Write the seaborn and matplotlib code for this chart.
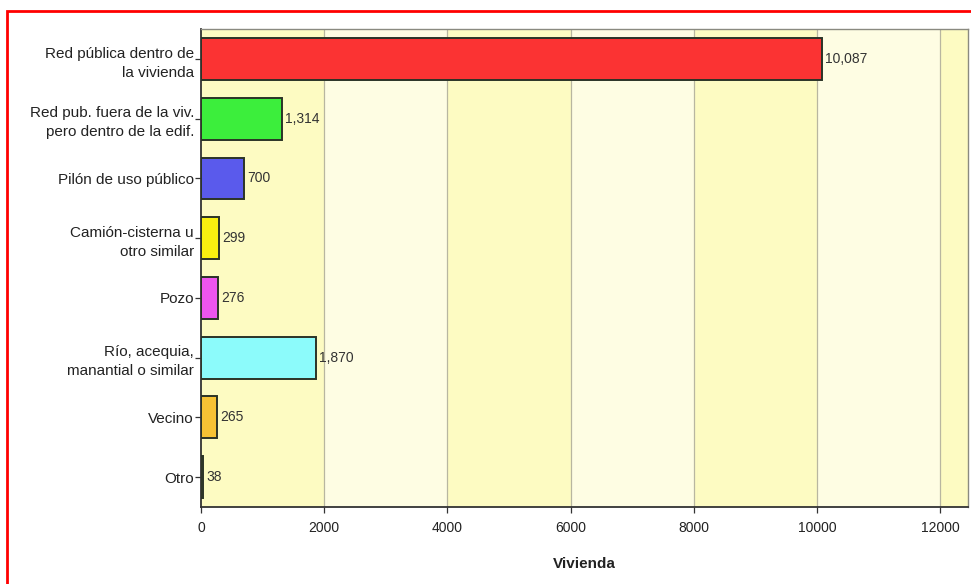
import matplotlib
matplotlib.use("Agg")
import matplotlib.pyplot as plt
import seaborn as sns
import pandas as pd
from matplotlib.patches import Rectangle

categories = [
    "Red pública dentro de\nla vivienda",
    "Red pub. fuera de la viv.\npero dentro de la edif.",
    "Pilón de uso público",
    "Camión-cisterna u\notro similar",
    "Pozo",
    "Río, acequia,\nmanantial o similar",
    "Vecino",
    "Otro",
]
values = [10087, 1314, 700, 299, 276, 1870, 265, 38]
colors = ["#fb3333", "#3cee3c", "#5a5aec", "#f8f010", "#ee55ee", "#8cfbfb", "#f7c234", "#9a9a70"]
xticks = [0, 2000, 4000, 6000, 8000, 10000, 12000]
xlabel = "Vivienda"

sns.set_theme(style="white")
plt.rcParams["font.family"] = ["Liberation Sans Narrow", "Liberation Sans", "DejaVu Sans"]

fig = plt.figure(figsize=(9.71, 5.84), dpi=100)
ax = fig.add_axes([0.207, 0.132, 0.790, 0.818])

df = pd.DataFrame({"cat": categories, "val": values})
sns.barplot(data=df, y="cat", x="val", hue="cat", palette=colors, orient="h",
            width=0.7, saturation=1, edgecolor="#2b3326", linewidth=1.4,
            legend=False, ax=ax, zorder=3)

xmax = 12450
ax.set_xlim(0, xmax)
ax.set_ylim(len(categories) - 0.5, -0.5)

# alternating background bands
bounds = xticks + [xmax]
for i in range(len(bounds) - 1):
    c = "#fdfbc2" if i % 2 == 0 else "#fefde3"
    ax.axvspan(bounds[i], bounds[i + 1], color=c, zorder=0, lw=0)
for t in xticks[1:]:
    ax.axvline(t, color="#b8b6a0", lw=0.9, zorder=1)

ax.set_xticks(xticks)
ax.set_xticklabels([str(t) for t in xticks], fontsize=10, color="#222222")
ax.tick_params(axis="y", labelsize=11, labelcolor="#222222", length=4, width=0.9,
               color="#333333", direction="out", left=True, pad=1)
for lab in ax.get_yticklabels():
    lab.set_linespacing(1.45)
ax.tick_params(axis="x", length=4, width=0.9, color="#333333", direction="out",
               bottom=True, pad=6)
ax.set_ylabel("")
ax.set_xlabel(xlabel, fontsize=11, fontweight="bold", color="#222222", labelpad=16)

for cont in ax.containers:
    ax.bar_label(cont, labels=[f"{v:,.0f}" for v in cont.datavalues], padding=2,
                 fontsize=10, color="#333333")

for s in ["left", "bottom"]:
    ax.spines[s].set_color("#333333")
    ax.spines[s].set_linewidth(1.3)
for s in ["top", "right"]:
    ax.spines[s].set_color("#8a8a80")
    ax.spines[s].set_linewidth(1.0)

# red frame around the picture
fig.patches.append(Rectangle((7 / 971, -0.05), 1.2, 1 - 11 / 584 + 0.05,
                             transform=fig.transFigure, fill=False,
                             edgecolor="#ff0000", linewidth=2))

fig.savefig("out.png", dpi=100, facecolor="white")
